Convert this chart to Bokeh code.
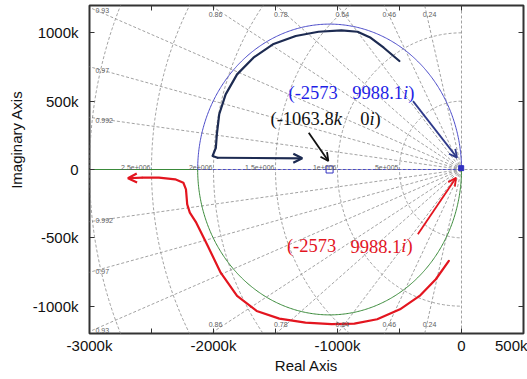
import numpy as np
from bokeh.plotting import figure
from bokeh.models import FixedTicker, LinearAxis, Label, Arrow, OpenHead, Title, Range1d
from bokeh.embed import file_html
from bokeh.resources import INLINE

# ---- axis ticks -------------------------------------------------------------
x_ticks = [-3000000, -2000000, -1000000, 0, 500000]
x_tick_labels = ["-3000k", "-2000k", "-1000k", "0", "500k"]
x_minor = [-2500000, -1500000, -500000]
y_ticks = [-1000000, -500000, 0, 500000, 1000000]
y_tick_labels = ["-1000k", "-500k", "0", "500k", "1000k"]

# ---- s-plane grid -----------------------------------------------------------
damping = [0.24, 0.46, 0.64, 0.78, 0.86, 0.93, 0.97, 0.992]
damping_labels = ["0.24", "0.46", "0.64", "0.78", "0.86", "0.93", "0.97", "0.992"]
wn = [500e3, 1000e3, 1500e3, 2000e3, 2500e3, 3000e3]
wn_labels = ["5e+005", "1e+006", "1.5e+006", "2e+006", "2.5e+006", ""]

# ---- root locus -------------------------------------------------------------
breakaway = -1063.8e3            # centre of the locus circle (breakaway point)
pole_re, pole_im = -2573.0, 9988.1   # dominant closed-loop pole

# ---- hand-drawn guide curves (k units) --------------------------------------
navy_x = [-501, -627, -732, -838, -969, -1153, -1337, -1521, -1678, -1810,
          -1902, -1954, -1973, -1981, -2007, -1968, -1284]
navy_y = [794, 891, 964, 1008, 1018, 1008, 977, 916, 818, 696,
          550, 404, 257, 159, 99, 86, 82]
red_x = [-102, -207, -338, -496, -680, -864, -1048, -1258, -1469, -1652, -1810,
         -1942, -2046, -2139, -2191, -2212, -2222, -2243, -2309, -2440, -2572, -2690]
red_y = [-669, -803, -925, -1023, -1096, -1128, -1132, -1121, -1091, -1035, -925,
         -755, -560, -389, -316, -255, -145, -97, -72, -60, -60, -64]

# pointer arrows (start, end) in k units
blue_arrow = ((-391, 500), (-36, 87))
black_arrow = ((-1232, 269), (-1074, 62))
red_arrow = ((-352, -474), (-44, -60))

SANS = "Liberation Sans"
SERIF = "Liberation Serif"
GRID = "#8a8a8a"
GRID_TXT = "#606060"
BLUE_TXT = "#1f1fe6"
BLUE_LINE = "#4a4ac8"
NAVY = "#1d2b52"
ARROW_BLUE = "#2f3a8a"
RED = "#e3151f"
GREEN = "#3a8a3a"
FRAME = "#333333"
K = 1e3

x_lo, x_hi = -3000e3, 500e3
y_lo, y_hi = -1200e3, 1200e3

p = figure(width=527, height=379,
           x_range=Range1d(x_lo, x_hi), y_range=Range1d(y_lo, y_hi),
           output_backend="svg", toolbar_location=None,
           min_border_left=79, min_border_right=4,
           min_border_top=5, min_border_bottom=46,
           background_fill_color="white", border_fill_color="white")
p.grid.visible = False
p.outline_line_color = FRAME
p.outline_line_width = 2


def style_ticks(ax):
    ax.axis_line_color = None
    ax.major_tick_in = 5
    ax.major_tick_out = 0
    ax.major_tick_line_color = FRAME
    ax.minor_tick_in = 5
    ax.minor_tick_out = 0
    ax.minor_tick_line_color = FRAME


for ax in (p.xaxis[0], p.yaxis[0]):
    style_ticks(ax)
    ax.major_label_text_font = SANS
    ax.major_label_text_font_size = "15px"
    ax.major_label_text_color = "#111111"

p.xaxis.ticker = FixedTicker(ticks=x_ticks, minor_ticks=x_minor)
p.xaxis.major_label_overrides = {t: s for t, s in zip(x_ticks, x_tick_labels)}
p.xaxis.major_label_standoff = 3
p.xaxis.axis_label = "Real Axis"
p.xaxis.axis_label_text_font = SANS
p.xaxis.axis_label_text_font_size = "15px"
p.xaxis.axis_label_text_font_style = "normal"
p.xaxis.axis_label_text_color = "#111111"
p.xaxis.axis_label_standoff = 0

p.yaxis.ticker = FixedTicker(ticks=y_ticks, minor_ticks=[])
p.yaxis.major_label_overrides = {t: s for t, s in zip(y_ticks, y_tick_labels)}
p.yaxis.major_label_standoff = 11

p.add_layout(Title(text="Imaginary Axis", align="right", offset=85,
                   text_font=SANS, text_font_size="15px",
                   text_font_style="normal", text_color="#111111"), "left")

# mirrored tick marks (no labels) on the top and right edges
for side, tks in (("above", x_ticks + x_minor), ("right", y_ticks)):
    ax = LinearAxis(ticker=FixedTicker(ticks=[], minor_ticks=tks),
                    major_label_standoff=0, axis_label_standoff=0)
    style_ticks(ax)
    p.add_layout(ax, side)

# ---- grid: damping-ratio rays and natural-frequency arcs --------------------
R = 6e6
for z in damping:
    s = np.sqrt(1 - z * z)
    for sign in (1, -1):
        p.line([0, -R * z], [0, sign * R * s], line_color=GRID,
               line_width=0.8, line_dash="3 2")
p.line([0, 0], [y_lo, y_hi], line_color=GRID, line_width=0.8, line_dash="3 2")
p.line([x_lo, x_hi], [0, 0], line_color=GRID, line_width=0.8, line_dash="3 2")

th = np.linspace(np.pi / 2, 3 * np.pi / 2, 240)
for w in wn:
    p.line(w * np.cos(th), w * np.sin(th), line_color=GRID,
           line_width=0.8, line_dash="3 2")

for w, txt in zip(wn, wn_labels):
    if txt:
        p.add_layout(Label(x=-w, y=0, text=txt, text_align="right",
                           text_baseline="alphabetic", x_offset=-1, y_offset=2,
                           text_font=SANS, text_font_size="7px",
                           text_color=GRID_TXT))

for z, txt in zip(damping, damping_labels):
    slope = np.sqrt(1 - z * z) / z
    x_top = -y_hi / slope
    if x_top > x_lo:
        p.add_layout(Label(x=x_top, y=y_hi, text=txt, text_align="left",
                           text_baseline="top", x_offset=-2, y_offset=-6,
                           text_font=SANS, text_font_size="7px", text_color=GRID_TXT))
        p.add_layout(Label(x=x_top, y=y_lo, text=txt, text_align="left",
                           text_baseline="bottom", x_offset=-2, y_offset=7,
                           text_font=SANS, text_font_size="7px", text_color=GRID_TXT))
    else:
        y_left = -x_lo * slope
        p.add_layout(Label(x=x_lo, y=y_left, text=txt, text_align="left",
                           text_baseline="top", x_offset=6, y_offset=-1,
                           text_font=SANS, text_font_size="7px", text_color=GRID_TXT))
        p.add_layout(Label(x=x_lo, y=-y_left, text=txt, text_align="left",
                           text_baseline="alphabetic", x_offset=6, y_offset=1,
                           text_font=SANS, text_font_size="7px", text_color=GRID_TXT))

# ---- root locus -------------------------------------------------------------
rad = -breakaway
t_up = np.linspace(0, np.pi, 300)
t_dn = np.linspace(np.pi, 2 * np.pi, 300)
p.line(breakaway + rad * np.cos(t_up), rad * np.sin(t_up),
       line_color=BLUE_LINE, line_width=1)
p.line(breakaway + rad * np.cos(t_dn), rad * np.sin(t_dn),
       line_color=GREEN, line_width=1)
p.line([2 * breakaway, x_lo - 500e3], [0, 0], line_color=GREEN, line_width=1)
p.line([2 * breakaway, 0], [0, 0], line_color=BLUE_LINE, line_width=1,
       line_dash="3 2")
p.scatter([breakaway], [0], marker="square", size=7, fill_color=None,
          line_color="#3030c0", line_width=1)
p.scatter([pole_re], [pole_im], marker="square", size=5,
          fill_color="#3030c0", line_color="#3030c0")

# ---- guide curves and pointers ----------------------------------------------
p.line([v * K for v in navy_x[:-1]], [v * K for v in navy_y[:-1]],
       line_color=NAVY, line_width=2.2, line_join="round", line_cap="round")
p.add_layout(Arrow(x_start=navy_x[-2] * K, y_start=navy_y[-2] * K,
                   x_end=navy_x[-1] * K, y_end=navy_y[-1] * K,
                   line_color=NAVY, line_width=2.2,
                   end=OpenHead(size=9, line_color=NAVY, line_width=2.2)))

p.line([v * K for v in red_x[:-1]], [v * K for v in red_y[:-1]],
       line_color=RED, line_width=2.2, line_join="round", line_cap="round")
p.add_layout(Arrow(x_start=red_x[-2] * K, y_start=red_y[-2] * K,
                   x_end=red_x[-1] * K, y_end=red_y[-1] * K,
                   line_color=RED, line_width=2.2,
                   end=OpenHead(size=9, line_color=RED, line_width=2.2)))

for (xs, ys), (xe, ye), col in ((blue_arrow[0], blue_arrow[1], ARROW_BLUE),
                                (black_arrow[0], black_arrow[1], "#111111"),
                                (red_arrow[0], red_arrow[1], RED)):
    p.add_layout(Arrow(x_start=xs * K, y_start=ys * K, x_end=xe * K, y_end=ye * K,
                       line_color=col, line_width=1.8,
                       end=OpenHead(size=8, line_color=col, line_width=1.8)))

# ---- value call-outs (serif, italic units) ----------------------------------
SERIF_SIZE = 18.5
EM = {"(": .333, ")": .333, "-": .333, ".": .25, "i": .278, "k": .444}


def run_width(s):
    return sum(EM.get(c, .5) for c in s) * SERIF_SIZE


def add_run(x, y, parts, color):
    off = 0.0
    for s, style in parts:
        p.add_layout(Label(x=x, y=y, x_offset=off, text=s, text_color=color,
                           text_font=SERIF, text_font_size=f"{SERIF_SIZE}px",
                           text_font_style=style, text_baseline="alphabetic"))
        off += run_width(s)


re_txt = f"({pole_re:g}"
im_txt = f"{pole_im:g}"
add_run(-1395e3, 563e3, [(re_txt, "normal")], BLUE_TXT)
add_run(-882e3, 563e3, [(im_txt, "normal"), ("i", "italic"), (")", "normal")], BLUE_TXT)

add_run(-1540e3, 372e3, [(f"({breakaway / K:g}", "normal"), ("k", "italic")], "#111111")
add_run(-817e3, 372e3, [("0", "normal"), ("i", "italic"), (")", "normal")], "#111111")

add_run(-1408e3, -560e3, [(re_txt, "normal")], RED)
add_run(-896e3, -560e3, [(im_txt, "normal"), ("i", "italic"), (")", "normal")], RED)

open("out.html", "w").write(file_html(p, INLINE))
